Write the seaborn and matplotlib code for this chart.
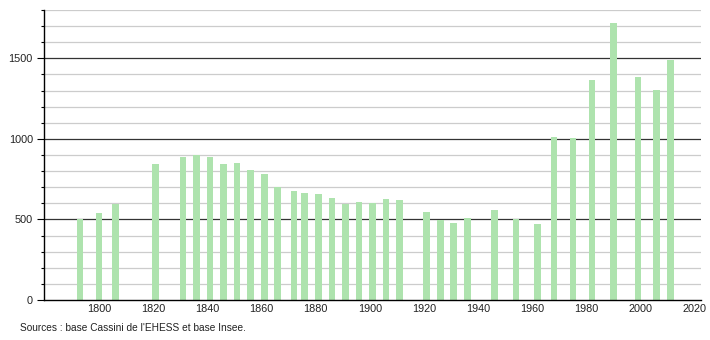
import matplotlib
matplotlib.use("Agg")
import matplotlib.pyplot as plt
from matplotlib.ticker import MultipleLocator
import seaborn as sns
import pandas as pd

years = [1793, 1800, 1806, 1821, 1831, 1836, 1841, 1846, 1851, 1856, 1861, 1866,
         1872, 1876, 1881, 1886, 1891, 1896, 1901, 1906, 1911, 1921, 1926, 1931,
         1936, 1946, 1954, 1962, 1968, 1975, 1982, 1990, 1999, 2006, 2011]
population = [505, 538, 598, 844, 885, 902, 885, 844, 849, 804, 781, 704,
              679, 667, 661, 636, 596, 611, 605, 630, 623, 549, 497, 480,
              510, 561, 505, 474, 1012, 1004, 1365, 1720, 1384, 1301, 1488]
source_text = "Sources : base Cassini de l'EHESS et base Insee."

df = pd.DataFrame({"year": years, "pop": population})

sns.set_style("white")
plt.rcParams["font.family"] = ["Liberation Sans", "DejaVu Sans"]

fig = plt.figure(figsize=(7.1, 3.4), dpi=100)
ax = fig.add_axes([44 / 710, 40 / 340, (701 - 44) / 710, 290 / 340])

# grid lines
for v in range(100, 1801, 100):
    if v % 500 == 0:
        ax.axhline(v, color="#333333", lw=0.9, zorder=1)
    else:
        ax.axhline(v, color="#cccccc", lw=0.9, zorder=1)

sns.barplot(data=df, x="year", y="pop", native_scale=True, width=0.62,
            color="#aee3ae", saturation=1, edgecolor="none", ax=ax, zorder=2)

ax.set_xlim(1779.7, 2022.3)
ax.set_ylim(0, 1800)
ax.set_xticks(range(1800, 2021, 20))
ax.yaxis.set_major_locator(MultipleLocator(500))
ax.yaxis.set_minor_locator(MultipleLocator(100))
ax.set_xlabel("")
ax.set_ylabel("")

for s in ["top", "right"]:
    ax.spines[s].set_visible(False)
for s in ["left", "bottom"]:
    ax.spines[s].set_color("black")
    ax.spines[s].set_linewidth(1.0)

ax.tick_params(axis="y", which="major", length=5, width=0.8, color="black",
               labelsize=7.8, pad=3, left=True, labelcolor="#222222")
ax.tick_params(axis="y", which="minor", length=2.5, width=0.8, color="black", left=True)
ax.tick_params(axis="x", which="major", length=0, labelsize=7.8, pad=3, labelcolor="#222222")
ax.set_axisbelow(False)

fig.text(20 / 710, 1 - 328 / 340, source_text, fontsize=7.3, va="center", ha="left",
         color="#222222")

fig.savefig("out.png", dpi=100)
